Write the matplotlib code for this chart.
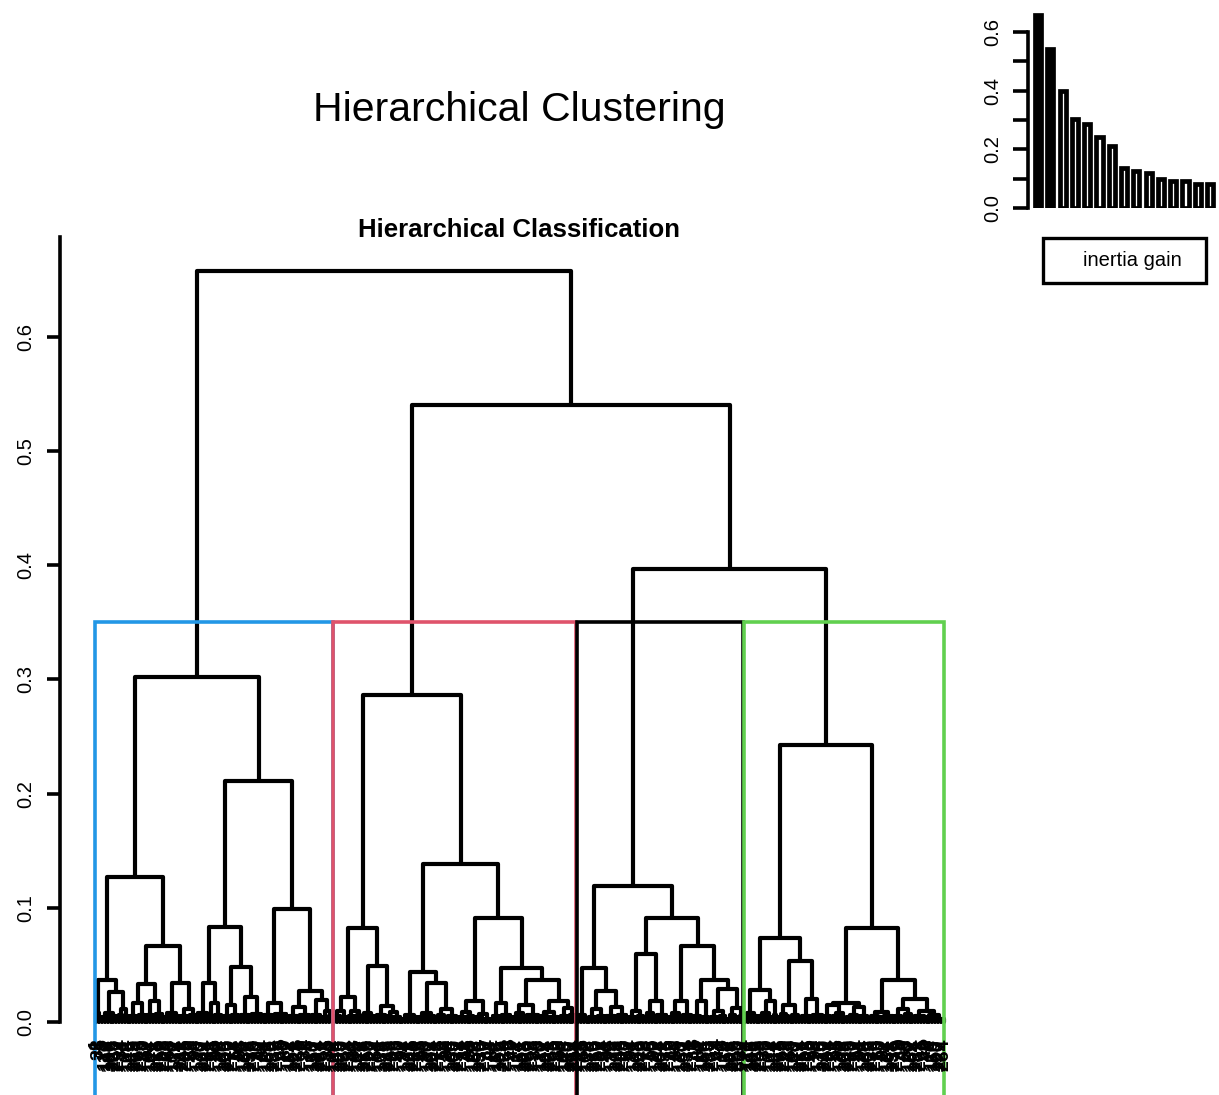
import matplotlib
matplotlib.use('Agg')
import matplotlib.pyplot as plt
from matplotlib.collections import LineCollection
from matplotlib.patches import Rectangle

plt.rcParams['font.family'] = ['Liberation Sans', 'DejaVu Sans']

# heights of the three top merges (root, red+rest, black+green)
top_heights = [0.658, 0.540, 0.397]
cut_height = 0.35

# subtrees: (height, left, right) = a merge, (n, height) = small bundle of n leaves
blue_tree = (0.302,
    (0.127,
        (0.037, (2, 0.008), (0.026, (0.008, (3, 0.004), (3, 0.005)), (0.011, (2, 0.006), (2, 0.005)))),
        (0.067,
            (0.033, (0.017, (3, 0.005), (3, 0.006)), (0.018, (3, 0.006), (3, 0.007))),
            (0.034, (0.008, (3, 0.004), (3, 0.005)), (0.011, (3, 0.005), (3, 0.006))))),
    (0.211,
        (0.083,
            (0.034, (4, 0.008), (0.017, (2, 0.005), (3, 0.006))),
            (0.048, (0.015, (3, 0.005), (3, 0.006)), (0.022, (4, 0.006), (4, 0.007)))),
        (0.099,
            (0.017, (4, 0.006), (5, 0.007)),
            (0.027, (0.013, (4, 0.005), (4, 0.006)),
                    (0.019, (4, 0.006), (0.010, (2, 0.004), (2, 0.005)))))))

red_tree = (0.286,
    (0.082,
        (0.022, (0.010, (3, 0.005), (2, 0.004)), (0.010, (3, 0.005), (2, 0.006))),
        (0.049, (0.008, (2, 0.004), (3, 0.005)), (0.014, (4, 0.006), (0.009, (2, 0.005), (3, 0.004))))),
    (0.138,
        (0.044, (0.006, (3, 0.003), (3, 0.004)),
                (0.034, (0.008, (3, 0.004), (3, 0.005)),
                        (0.011, (0.006, (2, 0.004), (2, 0.003)), (4, 0.005)))),
        (0.091,
            (0.018, (0.009, (3, 0.004), (3, 0.005)), (0.007, (3, 0.004), (3, 0.003))),
            (0.047,
                (0.017, (3, 0.005), (4, 0.006)),
                (0.037,
                    (0.015, (0.008, (3, 0.004), (2, 0.005)), (5, 0.006)),
                    (0.018, (0.009, (3, 0.005), (4, 0.004)), (0.012, (3, 0.005), (3, 0.006))))))))

black_tree = (0.119,
    (0.047, (0.006, (2, 0.004), (2, 0.003)),
            (0.027, (0.011, (3, 0.004), (3, 0.005)), (0.013, (4, 0.005), (4, 0.006)))),
    (0.091,
        (0.060, (0.010, (3, 0.004), (3, 0.005)),
                (0.018, (0.008, (2, 0.004), (2, 0.005)), (4, 0.006))),
        (0.067,
            (0.018, (0.008, (3, 0.004), (2, 0.005)), (4, 0.006)),
            (0.037, (0.018, (3, 0.005), (3, 0.004)),
                    (0.029, (0.010, (3, 0.004), (3, 0.005)),
                            (0.012, (0.006, (2, 0.003), (2, 0.004)), (2, 0.005)))))))

green_tree = (0.243,
    (0.074,
        (0.028, (0.008, (2, 0.004), (3, 0.005)),
                (0.018, (0.008, (3, 0.005), (2, 0.004)), (2, 0.006))),
        (0.053, (0.015, (0.007, (2, 0.004), (2, 0.005)), (0.006, (2, 0.003), (2, 0.004))),
                (0.020, (4, 0.005), (4, 0.006)))),
    (0.082,
        (0.017, (0.015, (3, 0.005), (0.008, (3, 0.005), (2, 0.004))),
                (0.013, (0.006, (3, 0.004), (2, 0.005)), (3, 0.005))),
        (0.037,
            (0.009, (0.005, (2, 0.003), (3, 0.004)), (4, 0.005)),
            (0.020, (0.011, (3, 0.005), (0.007, (2, 0.004), (2, 0.005))),
                    (0.010, (4, 0.005), (0.006, (3, 0.004), (4, 0.003)))))))

cluster_sizes = [84, 86, 59, 71]
cluster_colors = ['#2297E6', '#DF536B', 'black', '#61D04F']

# individual numbers under the leaves (not readable in the picture, spread 1..300)
n_leaves = sum(cluster_sizes)
leaf_ids = [(37 * k) % n_leaves + 1 for k in range(n_leaves)]

# inertia gain barplot (top right)
inertia_gain = [0.658, 0.540, 0.397, 0.302, 0.286, 0.243, 0.211, 0.138,
                0.127, 0.119, 0.099, 0.091, 0.091, 0.083, 0.082]
n_filled = 2

tree = (top_heights[0], blue_tree,
        (top_heights[1], red_tree, (top_heights[2], black_tree, green_tree)))

segs = []


def draw(node, start):
    # returns x position, height, next free leaf
    if len(node) == 2:
        n, h = node
        xs = [start + i for i in range(n)]
        if n == 1:
            return xs[0], 0.0, start + 1
        for x in xs:
            segs.append([(x, 0), (x, h)])
        segs.append([(xs[0], h), (xs[-1], h)])
        return (xs[0] + xs[-1]) / 2, h, start + n
    h, a, b = node
    xa, ha, nxt = draw(a, start)
    xb, hb, nxt = draw(b, nxt)
    segs.append([(xa, ha), (xa, h), (xb, h), (xb, hb)])
    return (xa + xb) / 2, h, nxt


fig = plt.figure(figsize=(12.19, 10.95), dpi=100)

ylo, yhi = -0.0639, 0.6874
ax = fig.add_axes([60 / 1219, 0, 900 / 1219, 858 / 1095])
draw(tree, 1)
ax.add_collection(LineCollection(segs, colors='black', linewidths=3.0,
                                 capstyle='round', joinstyle='round'))

# cluster rectangles
cum = 0
for size, col in zip(cluster_sizes, cluster_colors):
    left = cum + 0.5
    right = cum + size + 0.33
    ax.plot([left, left, right, right], [ylo - 0.01, cut_height, cut_height, ylo - 0.01],
            color=col, lw=2.6, solid_joinstyle='miter')
    cum += size

for i, lab in enumerate(leaf_ids):
    ax.text(i + 1, -0.0145, str(lab), rotation=90, ha='center', va='top',
            fontsize=14, fontweight='bold')

ax.set_xlim(-11.88, 305.82)
ax.set_ylim(ylo, yhi)
for s in ['top', 'right', 'bottom']:
    ax.spines[s].set_visible(False)
ax.spines['left'].set_bounds(0, yhi)
ax.spines['left'].set_linewidth(2.6)
ax.set_xticks([])
ax.set_yticks([0, 0.1, 0.2, 0.3, 0.4, 0.5, 0.6])
ax.set_yticklabels(['0.0', '0.1', '0.2', '0.3', '0.4', '0.5', '0.6'], rotation=90, va='center')
ax.tick_params(axis='y', length=9.5, width=2.6, pad=8, labelsize=14.5)

fig.text(519 / 1219, (1095 - 110) / 1095, 'Hierarchical Clustering', ha='center', va='center', fontsize=29.5)
fig.text(519 / 1219, (1095 - 230) / 1095, 'Hierarchical Classification', ha='center', va='center',
         fontsize=18.5, fontweight='bold')

# inset barplot
ax2 = fig.add_axes([1027.7 / 1219, 0.8098, (1219 - 1027.7) / 1219, 0.1827])
xs = list(range(1, len(inertia_gain) + 1))
fc = ['black'] * n_filled + ['white'] * (len(inertia_gain) - n_filled)
ax2.bar(xs, inertia_gain, width=0.5, color=fc, edgecolor='black', linewidth=3.4)
ax2.set_xlim(0.162, 15.73)
ax2.set_ylim(0, 0.68)
for s in ['top', 'right', 'bottom']:
    ax2.spines[s].set_visible(False)
ax2.spines['left'].set_bounds(0, 0.6)
ax2.spines['left'].set_linewidth(2.6)
ax2.set_xticks([])
ax2.set_yticks([0, 0.1, 0.2, 0.3, 0.4, 0.5, 0.6])
ax2.set_yticklabels(['0.0', '', '0.2', '', '0.4', '', '0.6'], rotation=90, va='center')
ax2.tick_params(axis='y', length=10.5, width=2.6, pad=8, labelsize=14.5)

# legend box
fig.add_artist(Rectangle((1043 / 1219, (1095 - 283) / 1095), 163 / 1219, 45 / 1095,
                         transform=fig.transFigure, fill=False, edgecolor='black', lw=2.4))
fig.text(1132 / 1219, (1095 - 261) / 1095, 'inertia gain', ha='center', va='center', fontsize=14.5)

fig.savefig('out.png', dpi=100)
